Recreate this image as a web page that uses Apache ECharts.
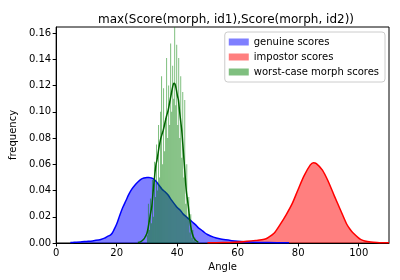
<!DOCTYPE html>
<html><head><meta charset="utf-8">
<script src="https://cdn.jsdelivr.net/npm/echarts@6/dist/echarts.min.js"></script>
<style>html,body{margin:0;padding:0;background:#fff}#c{width:400px;height:280px}</style>
</head><body><div id="c"></div>
<script>
const titleText = 'max(Score(morph, id1),Score(morph, id2))';
const xName = 'Angle';
const yName = 'frequency';
const legendNames = ['genuine scores', 'impostor scores', 'worst-case morph scores'];

const genuineX = [4.7,6,8,10,12,14,15,16,17,18,18.5,19,20,21,22,23,24,25,26,27,28,29,30,30.7,31.5,32,33,34,35,36,37,38,39,40,41,42,43,44,45,46,47,48,49,50,52,54,56,58,60,62,65,70,77];
const genuineY = [0.0003,0.0005,0.0008,0.0012,0.0016,0.0022,0.0028,0.0037,0.0050,0.0062,0.0074,0.0095,0.0145,0.021,0.027,0.032,0.037,0.041,0.044,0.0465,0.0485,0.0495,0.0500,0.0500,0.0495,0.049,0.047,0.044,0.041,0.039,0.0366,0.033,0.030,0.027,0.025,0.022,0.020,0.0180,0.016,0.014,0.0115,0.0099,0.008,0.0065,0.0045,0.0032,0.0024,0.0018,0.0013,0.0009,0.0005,0.0003,0.0001];

const impostorX = [50,55,60,63,66,68.8,70,72,74,76,78,80,82,84,85,86,88,90,92,94,96,97.3,98,100,100.6,102,104,106,108,110];
const impostorY = [0.0001,0.0003,0.0008,0.0013,0.0020,0.0028,0.0040,0.0074,0.0140,0.0215,0.0300,0.0410,0.0515,0.0595,0.0612,0.0605,0.0555,0.0465,0.0355,0.0250,0.0145,0.0099,0.0080,0.0037,0.0028,0.0016,0.0008,0.0004,0.0002,0.0001];

const morphKdeX = [27,28,29,29.5,30,30.5,31,31.6,32,32.5,33,33.3,34,34.5,35,35.4,36,36.5,37,37.5,38,38.5,38.9,39.3,39.7,40.1,40.4,40.8,41.2,41.5,42,42.5,43,43.7,44.2,44.7,45.3,46,47];
const morphKdeY = [0.0003,0.001,0.003,0.005,0.0074,0.013,0.020,0.028,0.038,0.050,0.060,0.063,0.073,0.079,0.083,0.086,0.092,0.097,0.101,0.107,0.113,0.119,0.1217,0.121,0.117,0.112,0.109,0.100,0.092,0.086,0.071,0.0556,0.040,0.0277,0.017,0.0099,0.005,0.0022,0.0005];

const morphBinEdges = [30.00,30.33,30.66,31.00,31.33,31.66,32.00,32.33,32.66,33.00,33.33,33.66,34.00,34.33,34.66,35.00,35.33,35.66,36.00,36.33,36.66,37.00,37.33,37.66,38.00,38.33,38.66,39.00,39.33,39.66,40.00,40.33,40.66,41.00,41.33,41.66,42.00,42.33,42.66,43.00,43.33,43.66,44.00,44.33,44.66,45.00,45.33,45.66,46.00,46.33];
const morphHist = [0.006,0.030,0.010,0.034,0.015,0.048,0.020,0.062,0.035,0.075,0.040,0.090,0.050,0.100,0.127,0.060,0.118,0.070,0.095,0.141,0.080,0.120,0.090,0.152,0.100,0.135,0.110,0.166,0.105,0.151,0.090,0.141,0.080,0.127,0.065,0.115,0.050,0.109,0.030,0.060,0.020,0.035,0.008,0.022,0.004,0.010,0.002,0.004,0.001];

const yTicks = [0, 0.02, 0.04, 0.06, 0.08, 0.10, 0.12, 0.14, 0.16];

const histData = morphHist.map((h, i) => [morphBinEdges[i], morphBinEdges[i + 1], h]);
const zip = (a, b) => a.map((v, i) => [v, b[i]]);

const FONT = 'DejaVu Sans';
const chart = echarts.init(document.getElementById('c'), null, {renderer: 'canvas'});
chart.setOption({
  animation: false,
  backgroundColor: '#fff',
  textStyle: {fontFamily: FONT},
  title: {text: titleText, left: 221, textAlign: 'center', top: 9,
    textStyle: {fontFamily: FONT, fontSize: 12, fontWeight: 'normal', color: '#000'}},
  grid: {left: 54, right: 11, top: 27, bottom: 37, show: true, borderColor: '#000', borderWidth: 1, backgroundColor: 'transparent'},
  legend: {
    orient: 'vertical', right: 15, top: 32, padding: [5, 6, 5, 4],
    itemWidth: 20, itemHeight: 7, itemGap: 5,
    backgroundColor: 'rgba(255,255,255,0.8)', borderColor: '#ccc', borderWidth: 1, borderRadius: 3,
    textStyle: {fontFamily: FONT, fontSize: 10, color: '#000'},
    data: [
      {name: legendNames[0], icon: 'rect', itemStyle: {color: 'rgba(0,0,255,0.5)', borderWidth: 0}},
      {name: legendNames[1], icon: 'rect', itemStyle: {color: 'rgba(255,0,0,0.5)', borderWidth: 0}},
      {name: legendNames[2], icon: 'rect', itemStyle: {color: 'rgba(0,128,0,0.5)', borderWidth: 0}}
    ]
  },
  xAxis: {
    type: 'value', min: 0, max: 110, interval: 20,
    name: xName, nameLocation: 'middle', nameGap: 19,
    nameTextStyle: {fontFamily: FONT, fontSize: 10, color: '#000'},
    axisLine: {show: true, lineStyle: {color: '#000'}},
    axisTick: {show: true, length: 3.5, lineStyle: {color: '#000'}},
    axisLabel: {fontFamily: FONT, fontSize: 10, color: '#000', margin: 5, showMaxLabel: false},
    splitLine: {show: false}
  },
  yAxis: {
    type: 'value', min: 0, max: 0.1646, interval: 0.02,
    name: yName, nameLocation: 'middle', nameGap: 35,
    nameTextStyle: {fontFamily: FONT, fontSize: 10, color: '#000'},
    axisLine: {show: true, lineStyle: {color: '#000'}},
    axisTick: {show: true, length: 3.5, lineStyle: {color: '#000'}},
    axisLabel: {fontFamily: FONT, fontSize: 10, color: '#000', margin: 5, showMaxLabel: false,
      formatter: v => yTicks.some(t => Math.abs(t - v) < 1e-9) ? v.toFixed(2) : ''},
    splitLine: {show: false}
  },
  series: [
    {name: legendNames[0], type: 'line', data: zip(genuineX, genuineY), smooth: 0.3, symbol: 'none',
      lineStyle: {color: '#0000ff', width: 1.5}, itemStyle: {color: '#0000ff'},
      areaStyle: {color: '#0000ff', opacity: 0.5, origin: 'start'}, z: 2},
    {name: legendNames[1], type: 'line', data: zip(impostorX, impostorY), smooth: 0.3, symbol: 'none',
      lineStyle: {color: '#ff0000', width: 1.5}, itemStyle: {color: '#ff0000'},
      areaStyle: {color: '#ff0000', opacity: 0.5, origin: 'start'}, z: 2},
    {name: legendNames[2], type: 'custom', data: histData, z: 3, clip: true,
      itemStyle: {color: 'rgba(0,128,0,0.5)'},
      renderItem: function (params, api) {
        const p0 = api.coord([api.value(0), api.value(2)]);
        const p1 = api.coord([api.value(1), 0]);
        return {type: 'rect', shape: {x: p0[0], y: p0[1], width: p1[0] - p0[0], height: p1[1] - p0[1]},
          style: {fill: 'rgba(0,128,0,0.5)'}};
      },
      encode: {x: [0, 1], y: 2}},
    {name: 'morph kde', type: 'line', data: zip(morphKdeX, morphKdeY), smooth: 0.3, symbol: 'none',
      lineStyle: {color: '#006400', width: 1.5}, itemStyle: {color: '#006400'}, z: 4}
  ]
});
</script></body></html>
